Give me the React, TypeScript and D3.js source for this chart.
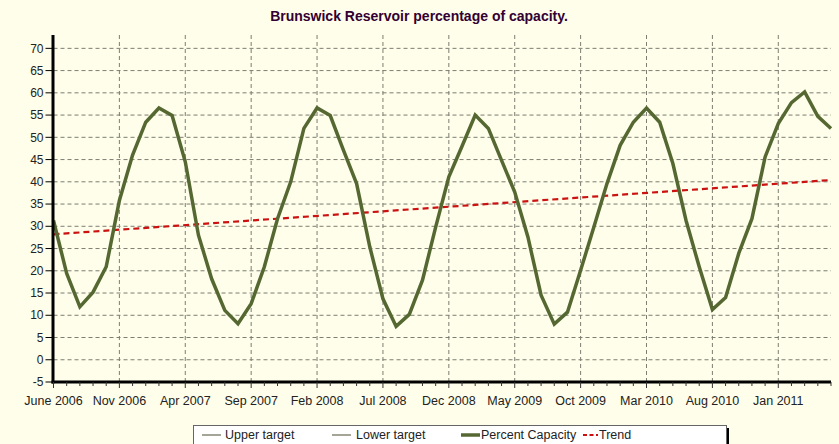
import React from "react";
import * as d3 from "d3";

const monthCount = 60;
const percentCapacity: number[] = [
  31.3, 19.4, 11.9, 15.2, 20.9, 35.8, 46.0, 53.4, 56.6, 54.9,
  44.5, 28.0, 18.2, 11.1, 8.1, 12.6, 20.9, 31.7, 40.0, 52.0,
  56.6, 54.9, 47.1, 39.6, 25.4, 13.7, 7.5, 10.2, 17.9, 29.8,
  41.1, 48.0, 55.0, 52.0, 44.8, 37.7, 27.6, 14.5, 8.0, 10.7,
  20.1, 29.8, 39.6, 48.2, 53.4, 56.6, 53.4, 44.1, 31.3, 20.9,
  11.3, 14.0, 23.9, 31.7, 45.6, 53.1, 57.8, 60.2, 54.7, 52.0,
];
const trendIndex: number[] = [0, 59];
const trendValues: number[] = [28.2, 40.4];
const xTickIndex: number[] = [0, 5, 10, 15, 20, 25, 30, 35, 40, 45, 50, 55];
const xTickLabels: string[] = [
  "June 2006", "Nov 2006", "Apr 2007", "Sep 2007", "Feb 2008", "Jul 2008",
  "Dec 2008", "May 2009", "Oct 2009", "Mar 2010", "Aug 2010", "Jan 2011",
];
const yTicks: number[] = [-5, 0, 5, 10, 15, 20, 25, 30, 35, 40, 45, 50, 55, 60, 65, 70];
const legendLabels: string[] = ["Upper target", "Lower target", "Percent Capacity", "Trend"];
const title = "Brunswick Reservoir percentage of capacity.";

const W = 839;
const H = 444;
const FONT = "Arial, 'Liberation Sans', sans-serif";
const BG = "#FEFEEA";
const GREEN = "#566832";
const RED = "#CC1111";

export default function App() {
  const x = d3.scaleLinear().domain([0, monthCount - 1]).range([53.5, 831]);
  const y = d3.scaleLinear().domain([-5, 73]).range([382, 35]);

  const line = d3
    .line<number>()
    .x((_, i) => x(i))
    .y((d) => y(d));
  const trendLine = d3
    .line<number>()
    .x((_, i) => x(trendIndex[i]))
    .y((d) => y(d));

  const months = d3.range(monthCount);

  const legendX = [202, 332, 461, 583];
  const legendTextX = [225, 356, 481, 599];

  return (
    <svg
      width={W}
      height={H}
      style={{ position: "absolute", left: 0, top: 0, display: "block" }}
      fontFamily={FONT}
    >
      <rect x={0} y={0} width={W} height={H} fill={BG} />
      <text
        x={419}
        y={21}
        textAnchor="middle"
        fontSize={14}
        fontWeight="bold"
        fill="#330033"
      >
        {title}
      </text>

      {yTicks.map((t) => (
        <line
          key={"hg" + t}
          x1={x(0)}
          x2={x(monthCount - 1)}
          y1={y(t)}
          y2={y(t)}
          stroke="#7d7d72"
          strokeWidth={1}
          strokeDasharray="4,3"
        />
      ))}
      {xTickIndex.slice(1).map((t) => (
        <line
          key={"vg" + t}
          x1={x(t)}
          x2={x(t)}
          y1={y(73)}
          y2={y(-5)}
          stroke="#7d7d72"
          strokeWidth={1}
          strokeDasharray="4,3"
        />
      ))}

      <path
        d={trendLine(trendValues) || ""}
        fill="none"
        stroke={RED}
        strokeWidth={2.2}
        strokeDasharray="6,4"
      />
      <path
        d={line(percentCapacity) || ""}
        fill="none"
        stroke={GREEN}
        strokeWidth={3.5}
        strokeLinejoin="miter"
      />

      <line x1={x(0) - 0.5} x2={x(0) - 0.5} y1={y(73)} y2={y(-5) + 1.5} stroke="#000" strokeWidth={3} />
      <line x1={x(0) - 2} x2={x(monthCount - 1)} y1={y(-5)} y2={y(-5)} stroke="#000" strokeWidth={3} />

      {yTicks.map((t) => (
        <g key={"yt" + t}>
          <line x1={x(0) - 8} x2={x(0)} y1={y(t)} y2={y(t)} stroke="#000" strokeWidth={1} />
          <text
            x={x(0) - 10}
            y={y(t)}
            dy="0.35em"
            textAnchor="end"
            fontSize={12}
            fill="#222"
          >
            {t}
          </text>
        </g>
      ))}

      {months.map((m) => (
        <line
          key={"mt" + m}
          x1={x(m)}
          x2={x(m)}
          y1={y(-5)}
          y2={y(-5) + (xTickIndex.includes(m) ? 6 : 4)}
          stroke="#333"
          strokeWidth={1}
        />
      ))}
      {xTickIndex.map((t, i) => (
        <text
          key={"xl" + t}
          x={x(t)}
          y={405}
          textAnchor="middle"
          fontSize={12.5}
          fill="#222"
        >
          {xTickLabels[i]}
        </text>
      ))}

      <rect x={196} y={428} width={533} height={30} fill="#000" />
      <rect x={193.5} y={425.5} width={533} height={30} fill="#fff" stroke="#666" strokeWidth={1} />
      <line x1={legendX[0]} x2={legendX[0] + 19} y1={435} y2={435} stroke="#4a4a30" strokeWidth={1} />
      <line x1={legendX[1]} x2={legendX[1] + 19} y1={435} y2={435} stroke="#4a4a30" strokeWidth={1} />
      <line x1={legendX[2]} x2={legendX[2] + 19} y1={435} y2={435} stroke={GREEN} strokeWidth={3.5} />
      <line x1={legendX[3]} x2={legendX[3] + 15} y1={435} y2={435} stroke={RED} strokeWidth={2} strokeDasharray="4,2.5" />
      {legendLabels.map((l, i) => (
        <text key={l} x={legendTextX[i]} y={435} dy="0.35em" fontSize={12.5} fill="#222">
          {l}
        </text>
      ))}
    </svg>
  );
}
